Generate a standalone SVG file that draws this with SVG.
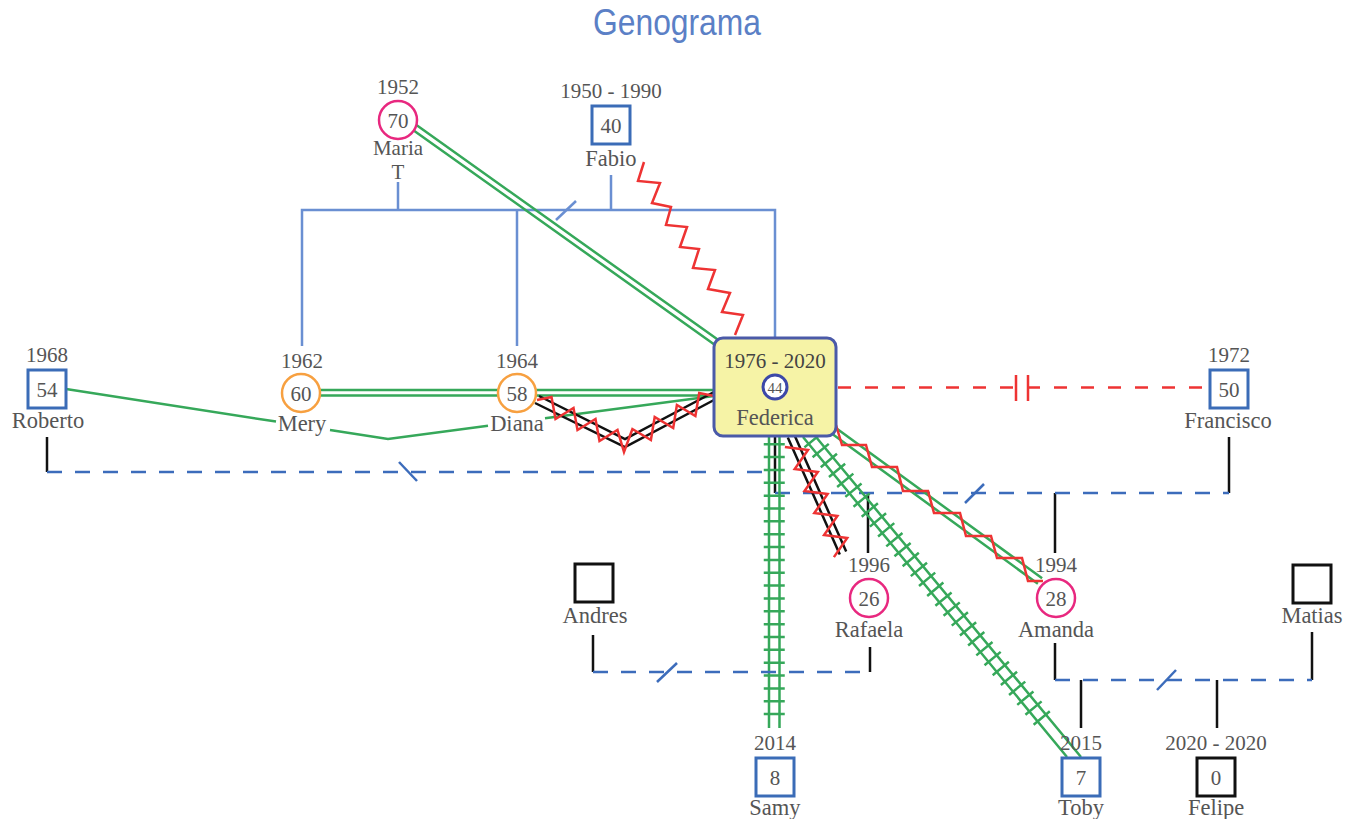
<svg xmlns="http://www.w3.org/2000/svg" width="1354" height="819" viewBox="0 0 1354 819">
<style>
text{font-family:"Liberation Serif",serif;fill:#555;text-anchor:middle}
.yr{font-size:21px}
.nm{font-size:22.5px}
.num{font-size:21px}
.title{font-family:"Liberation Sans",sans-serif;font-size:36px;fill:#5b80c6}
.fam{stroke:#6a8fd2;stroke-width:2.5;fill:none}
.dash{stroke:#3c6cbb;stroke-width:2.5;fill:none;stroke-dasharray:15 13}
.blk{stroke:#111;stroke-width:2.5;fill:none}
.grn{stroke:#36a85a;stroke-width:2.5;fill:none}
.tick{stroke:#36a85a;stroke-width:21;fill:none;stroke-dasharray:2.5 10.35}
.red{stroke:#ee3333;stroke-width:2.5;fill:none}
.rdash{stroke:#ee3333;stroke-width:2.5;fill:none;stroke-dasharray:13 14}
.slash{stroke:#3c6cbb;stroke-width:2.5}
.m{fill:#fff;stroke:#3b6cb7;stroke-width:3}
.mb{fill:#fff;stroke:#111;stroke-width:3}
.f{fill:#fff;stroke:#e8287f;stroke-width:2.5}
.fo{fill:#fff;stroke:#f7a040;stroke-width:2.5}
</style>
<text class="title" x="677" y="35" textLength="168" lengthAdjust="spacingAndGlyphs">Genograma</text>
<g id="connectors">
  <path class="fam" d="M302,346 V210 H775 V338 M398,182 V210 M611,175 V210 M517,210 V346"/>
  <path class="fam" d="M556,220 L576,201"/>
  <path class="grn" d="M415.7,124.6 L717.7,339.6 M412.3,129.4 L714.3,344.4"/>
  <polyline class="red" points="644,162 638,181 660,183 652,203 671,207 666,225 687,227 680,247 699,249 693,268 715,270 708,289 730,293 722,312 743,315 735,335"/>
  <path class="grn" d="M320,390 H498 M320,395.5 H498 M536,390 H714 M536,395.5 H714"/>
  <path class="grn" d="M66,389 L276,421.6 M330,430 L388,439 L488,425.8 M545,418.2 L714,396"/>
  <path class="blk" d="M539,396 L625,439 L714,392 M535,403 L625,447 L714,400"/>
  <polyline class="red" points="537,400 551.5,397 555.5,419 573.5,408 577.5,430 595.5,419 599.5,441 617.5,430 624,452 632.4,429 650.9,440 654.7,417 673.2,428 676.9,405 695.4,416 699.2,393 714,396"/>
  <path class="rdash" d="M838,387.5 H1208"/>
  <path class="red" d="M1016,375 V401 M1028,375 V401"/>
  <path class="blk" d="M47,437 V472"/>
  <path class="dash" d="M47,472 H772"/>
  <path class="slash" d="M399,462 L417,481"/>
  <path class="blk" d="M775,436 V493 M1229,437 V493 M868,493 V553 M1055,493 V553"/>
  <path class="dash" d="M775,493 H1229"/>
  <path class="slash" d="M965,503 L984,484"/>
  <path class="grn" d="M769,436 V728 M779.5,436 V728"/>
  <path class="tick" d="M774.25,443 V716"/>
  <path class="grn" d="M803,437 L1067,757 M816,437 L1081,757"/>
  <path class="tick" d="M811.7,439.7 L1046.5,723.8"/>
  <path class="blk" d="M794.2,434.6 L846.2,551.6 M787.8,437.4 L839.8,554.4"/>
  <polyline class="red" points="784.9,447.1 808,449.9 794.7,469.1 817.8,471.9 804.5,491.1 827.6,493.9 814.3,513.1 837.4,515.9 824.1,535.1 847.2,537.9 833.9,557.1"/>
  <path class="grn" d="M832.1,425.2 L1042.1,578.2 M827.9,430.8 L1037.9,583.8"/>
  <polyline class="red" points="836,425 842,445 866,445 872,467 897,467 903,491 928,491 934,513 960,513 966,536 991,536 997,558 1022,558 1028,581 1043,581"/>
  <path class="blk" d="M593,635 V672 M870,647 V672"/>
  <path class="dash" d="M593,672 H870"/>
  <path class="slash" d="M657,682 L677,663"/>
  <path class="blk" d="M1055,643 V680 M1312,632 V680 M1081,680 V728 M1217,680 V728"/>
  <path class="dash" d="M1055,680 H1312"/>
  <path class="slash" d="M1157,690 L1176,670"/>
</g>
<g id="maria">
  <text class="yr" x="398" y="94">1952</text>
  <circle class="f" cx="398" cy="120" r="19"/>
  <text class="num" x="398" y="127.5">70</text>
  <text x="398" y="155" style="font-size:21px">Maria</text>
  <text x="398" y="179" style="font-size:21px">T</text>
</g>
<g id="fabio">
  <text class="yr" x="611" y="98">1950 - 1990</text>
  <rect class="m" x="592" y="106" width="38" height="38"/>
  <text class="num" x="611" y="132.5">40</text>
  <text class="nm" x="611" y="166">Fabio</text>
</g>
<g id="roberto">
  <text class="yr" x="47" y="362">1968</text>
  <rect class="m" x="28" y="370" width="38" height="38"/>
  <text class="num" x="47" y="396.5">54</text>
  <text class="nm" x="48" y="428">Roberto</text>
</g>
<g id="mery">
  <text class="yr" x="302" y="368">1962</text>
  <circle class="fo" cx="301" cy="393" r="19"/>
  <text class="num" x="301" y="400.5">60</text>
  <text class="nm" x="302" y="431">Mery</text>
</g>
<g id="diana">
  <text class="yr" x="517" y="368">1964</text>
  <circle class="fo" cx="517" cy="393" r="19"/>
  <text class="num" x="517" y="400.5">58</text>
  <text class="nm" x="517" y="431">Diana</text>
</g>
<g id="federica">
  <rect x="714" y="338" width="122" height="98" rx="9" fill="#f6f3a6" stroke="#4b5aa8" stroke-width="3"/>
  <text class="yr" x="775" y="368" style="fill:#444">1976 - 2020</text>
  <circle cx="775" cy="387" r="12" fill="#fff" stroke="#3c48a8" stroke-width="3"/>
  <text x="775" y="392.5" style="font-size:15px">44</text>
  <text class="nm" x="775" y="425">Federica</text>
</g>
<g id="francisco">
  <text class="yr" x="1229" y="362">1972</text>
  <rect class="m" x="1210" y="370" width="38" height="38"/>
  <text class="num" x="1229" y="396.5">50</text>
  <text class="nm" x="1228" y="428">Francisco</text>
</g>
<g id="andres">
  <rect class="mb" x="575" y="564" width="38" height="38"/>
  <text class="nm" x="595" y="623">Andres</text>
</g>
<g id="rafaela">
  <text class="yr" x="869" y="572">1996</text>
  <circle class="f" cx="869" cy="598" r="19"/>
  <text class="num" x="869" y="605.5">26</text>
  <text class="nm" x="869" y="637">Rafaela</text>
</g>
<g id="amanda">
  <text class="yr" x="1056" y="572">1994</text>
  <circle class="f" cx="1056" cy="598" r="19"/>
  <text class="num" x="1056" y="605.5">28</text>
  <text class="nm" x="1056" y="637">Amanda</text>
</g>
<g id="matias">
  <rect class="mb" x="1293" y="565" width="38" height="38"/>
  <text class="nm" x="1312" y="623">Matias</text>
</g>
<g id="samy">
  <text class="yr" x="775" y="750">2014</text>
  <rect class="m" x="756" y="758" width="38" height="38"/>
  <text class="num" x="775" y="784.5">8</text>
  <text class="nm" x="775" y="815">Samy</text>
</g>
<g id="toby">
  <text class="yr" x="1081" y="750">2015</text>
  <rect class="m" x="1062" y="758" width="38" height="38"/>
  <text class="num" x="1081" y="784.5">7</text>
  <text class="nm" x="1081" y="815">Toby</text>
</g>
<g id="felipe">
  <text class="yr" x="1216" y="750">2020 - 2020</text>
  <rect class="mb" x="1197" y="758" width="38" height="38"/>
  <text class="num" x="1216" y="784.5">0</text>
  <text class="nm" x="1216" y="815">Felipe</text>
</g>
</svg>
